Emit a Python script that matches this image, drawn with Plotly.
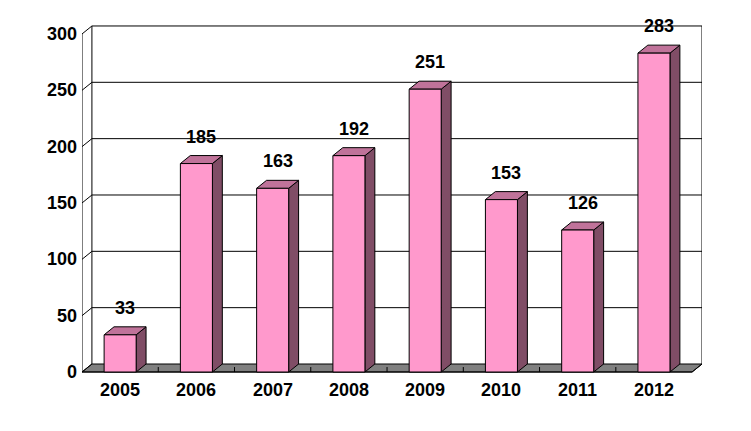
import plotly.graph_objects as go

years = ["2005", "2006", "2007", "2008", "2009", "2010", "2011", "2012"]
values = [33, 185, 163, 192, 251, 153, 126, 283]
y_ticks = [0, 50, 100, 150, 200, 250, 300]

FRONT = "#FF99CC"
TOP = "#C0739A"
SIDE = "#804D66"
FLOOR = "#808080"
FONT = "Liberation Sans Narrow, Arial Narrow, Liberation Sans, Arial, sans-serif"

# geometry (in data units)
dx = 0.13     # depth offset along x (category units)
dy = 7.1      # depth offset along y (value units)
hw = 0.21     # half bar width
n = len(years)
x0, x1 = -0.5, n - 0.5
ymax = y_ticks[-1]

fig = go.Figure()

def poly(xs, ys, fill, line="black", width=1):
    fig.add_trace(go.Scatter(x=xs + [xs[0]], y=ys + [ys[0]], mode="lines",
                             fill="toself", fillcolor=fill,
                             line=dict(color=line, width=width),
                             hoverinfo="skip", showlegend=False, cliponaxis=False))

def seg(xs, ys, width=1):
    fig.add_trace(go.Scatter(x=xs, y=ys, mode="lines",
                             line=dict(color="black", width=width),
                             hoverinfo="skip", showlegend=False, cliponaxis=False))

# floor
poly([x0, x1, x1 + dx, x0 + dx], [0, 0, dy, dy], FLOOR)
# floor tick marks at category boundaries
for k in range(1, n):
    seg([k - 0.5, k - 0.5], [0, 0.62 * dy])

# back wall gridlines and tick diagonals
for t in y_ticks:
    if t > 0:
        seg([x0 + dx, x1 + dx], [t + dy, t + dy])
    seg([x0, x0 + dx], [t, t + dy])
# back wall edges
seg([x0 + dx, x0 + dx], [dy, ymax + dy])
seg([x1 + dx, x1 + dx], [dy, ymax + dy])
# front axis
seg([x0, x0], [0, ymax])
seg([x0, x1], [0, 0])
seg([x1, x1 + dx], [0, dy])

# bars
for i, v in enumerate(values):
    l, r = i - hw, i + hw
    poly([r, r + dx, r + dx, r], [0, dy, v + dy, v], SIDE)
    poly([l, r, r + dx, l + dx], [v, v, v + dy, v + dy], TOP)
    poly([l, r, r, l], [0, 0, v, v], FRONT)

lab_font = dict(family=FONT, size=18, color="black", weight="bold")
annotations = []
for i, v in enumerate(values):
    annotations.append(dict(x=i, y=v, xref="x", yref="y", text=str(v),
                            showarrow=False, xshift=5, yshift=27,
                            yanchor="middle", xanchor="center", font=lab_font))
for i, yr in enumerate(years):
    annotations.append(dict(x=i, y=0, xref="x", yref="y", text=yr,
                            showarrow=False, yshift=-18,
                            yanchor="middle", xanchor="center", font=lab_font))
for t in y_ticks:
    annotations.append(dict(x=x0, y=t, xref="x", yref="y", text=str(t),
                            showarrow=False, xshift=-3,
                            yanchor="middle", xanchor="right", font=lab_font))

fig.update_layout(
    width=751, height=431,
    margin=dict(l=82, r=49, t=20, b=51),
    paper_bgcolor="white", plot_bgcolor="white",
    xaxis=dict(range=[x0, x1 + dx], visible=False, fixedrange=True),
    yaxis=dict(range=[-7.1, 312.4], visible=False, fixedrange=True),
    annotations=annotations,
    showlegend=False,
)

fig.write_html("out.html")
